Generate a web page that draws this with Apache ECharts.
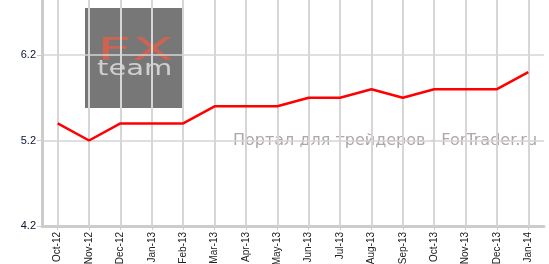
<!DOCTYPE html>
<html><head><meta charset="utf-8">
<script src="https://cdn.jsdelivr.net/npm/echarts@6/dist/echarts.min.js"></script>
<style>html,body{margin:0;padding:0;background:#fff}#c{width:549px;height:264px}</style>
</head><body><div id="c"></div>
<script>
const categories = ['Oct-12','Nov-12','Dec-12','Jan-13','Feb-13','Mar-13','Apr-13','May-13','Jun-13','Jul-13','Aug-13','Sep-13','Oct-13','Nov-13','Dec-13','Jan-14'];
const values = [5.4,5.2,5.4,5.4,5.4,5.6,5.6,5.6,5.7,5.7,5.8,5.7,5.8,5.8,5.8,6.0];
const yTicks = [4.2,5.2,6.2];
const chart = echarts.init(document.getElementById('c'), null, {renderer:'canvas'});
chart.setOption({
  animation:false,
  grid:{left:42,right:5,top:-30.5,bottom:38,containLabel:false,outerBoundsMode:'none'},
  xAxis:{type:'category',data:categories,boundaryGap:true,
    axisLine:{show:true,lineStyle:{color:'#cccccc',width:3}},
    axisTick:{show:true,alignWithLabel:true,length:4,lineStyle:{color:'#cccccc',width:1}},
    axisLabel:{rotate:90,fontSize:10,fontFamily:'Liberation Sans',color:'#222',margin:6,interval:0},
    splitLine:{show:false}},
  yAxis:{type:'value',min:4.2,max:7.2,interval:1,
    axisLine:{show:true,lineStyle:{color:'#cccccc',width:3}},
    axisTick:{show:true,length:5,lineStyle:{color:'#cccccc',width:1}},
    axisLabel:{fontSize:11,fontFamily:'Liberation Sans',color:'#0b1533',margin:6,
      formatter:v=>yTicks.some(t=>Math.abs(t-v)<1e-6)?v.toFixed(1):''},
    splitLine:{show:true,lineStyle:{color:'#d4d4d4',width:1.5}}},
  graphic:[
    {type:'rect',z:-10,shape:{x:85,y:8,width:99,height:100},style:{fill:'#777777'}},
    {type:'text',z:-9,x:97,y:36,scaleX:1.9,scaleY:1,style:{text:'FX',font:'normal 32px "DejaVu Sans"',fill:'#cf6352',textVerticalAlign:'top'}},
    {type:'text',z:-9,x:97,y:58,scaleX:1.32,scaleY:1,style:{text:'team',font:'normal 22px "DejaVu Sans"',fill:'#cfcfcf',textVerticalAlign:'top'}},
    {type:'text',z:-9,x:233,y:133,style:{text:'Портал для трейдеров - ForTrader.ru',font:'16px "DejaVu Sans"',fill:'#b0a6a6',textVerticalAlign:'top'}}
  ],
  series:[{type:'line',data:values,symbol:'none',lineStyle:{color:'#ff0000',width:2.5},z:10,
    markLine:{silent:true,symbol:'none',label:{show:false},
      lineStyle:{color:'#d6d6d6',width:2,type:'solid',opacity:1},
      data:categories.map(c=>({xAxis:c}))}}]
});
</script></body></html>
